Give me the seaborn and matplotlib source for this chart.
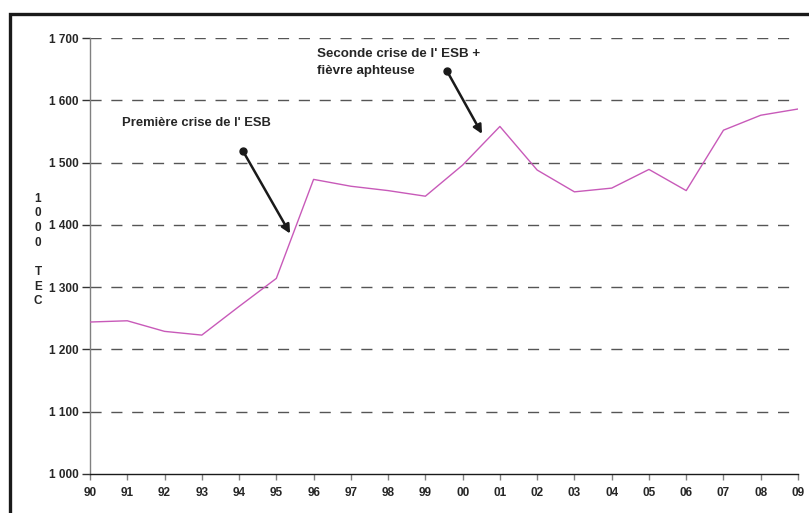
import matplotlib
matplotlib.use('Agg')
import matplotlib.pyplot as plt
import matplotlib.patches as mpatches
import seaborn as sns
import pandas as pd

# Data (1000 TEC per year)
years = ['90', '91', '92', '93', '94', '95', '96', '97', '98', '99',
         '00', '01', '02', '03', '04', '05', '06', '07', '08', '09']
values = [1244, 1246, 1229, 1223, 1269, 1314, 1473, 1462, 1455, 1446,
          1496, 1558, 1488, 1453, 1459, 1489, 1455, 1552, 1576, 1586]
y_ticks = [1000, 1100, 1200, 1300, 1400, 1500, 1600, 1700]
y_tick_labels = ['1 000', '1 100', '1 200', '1 300', '1 400', '1 500', '1 600', '1 700']

sns.set_style('white')
plt.rcParams['font.family'] = ['Liberation Sans', 'DejaVu Sans']
plt.rcParams['font.weight'] = 'bold'

df = pd.DataFrame({'idx': range(len(years)), 'value': values})

fig = plt.figure(figsize=(8.09, 5.13), dpi=100)
ax = fig.add_axes([90 / 809, 39 / 513, 708 / 809, 436 / 513])

# outer frame of the original graphic (cut at right and bottom)
frame = mpatches.Rectangle((10 / 809, -0.1), 1.2, (513 - 14) / 513 + 0.1,
                           transform=fig.transFigure, fill=False,
                           edgecolor='#1a1a1a', linewidth=2.4, zorder=0)
fig.patches.append(frame)

for t in y_ticks[1:]:
    ax.axhline(t, color='#555555', linewidth=1.0, linestyle=(0, (8, 7)), zorder=1)

sns.lineplot(data=df, x='idx', y='value', color='#c85ab9', linewidth=1.0, ax=ax, zorder=3)

ax.set_xlim(0, len(years) - 1)
ax.set_ylim(1000, 1700)
ax.set_xticks(range(len(years)))
ax.set_xticklabels(years, fontsize=8.5, fontweight='bold')
ax.set_yticks(y_ticks)
ax.set_yticklabels(y_tick_labels, fontsize=8.5, fontweight='bold')
ax.set_xlabel('')
ax.set_ylabel('')

for side in ['top', 'right']:
    ax.spines[side].set_visible(False)
ax.spines['left'].set_color('#808080')
ax.spines['left'].set_linewidth(1.0)
ax.spines['bottom'].set_color('#1a1a1a')
ax.spines['bottom'].set_linewidth(1.0)
ax.tick_params(axis='y', left=True, length=6, width=1, color='#333333', pad=2)
ax.tick_params(axis='x', bottom=True, length=4, width=1, color='#808080', pad=5)

# vertical stacked axis title
fig.text(38 / 809, 1 - 250 / 513, '1\n0\n0\n0\n\nT\nE\nC', ha='center', va='center',
         fontsize=8.5, fontweight='bold', linespacing=1.3)

# annotations
ax.text(0.86, 1563, "Première crise de l' ESB", fontsize=9.4, fontweight='bold',
        ha='left', va='center')
ax.annotate('', xy=(5.37, 1386), xytext=(4.11, 1518),
            arrowprops=dict(arrowstyle='-|>', color='#1a1a1a', lw=1.8,
                            mutation_scale=13, shrinkA=0, shrinkB=0))
ax.plot([4.11], [1518], 'o', color='#1a1a1a', markersize=5, zorder=5)

ax.text(6.09, 1661, "Seconde crise de l' ESB +\nfièvre aphteuse", fontsize=9.6,
        fontweight='bold', ha='left', va='center', linespacing=1.6)
ax.annotate('', xy=(10.52, 1546), xytext=(9.58, 1647),
            arrowprops=dict(arrowstyle='-|>', color='#1a1a1a', lw=1.8,
                            mutation_scale=13, shrinkA=0, shrinkB=0))
ax.plot([9.58], [1647], 'o', color='#1a1a1a', markersize=5, zorder=5)

fig.savefig('out.png', dpi=100)
